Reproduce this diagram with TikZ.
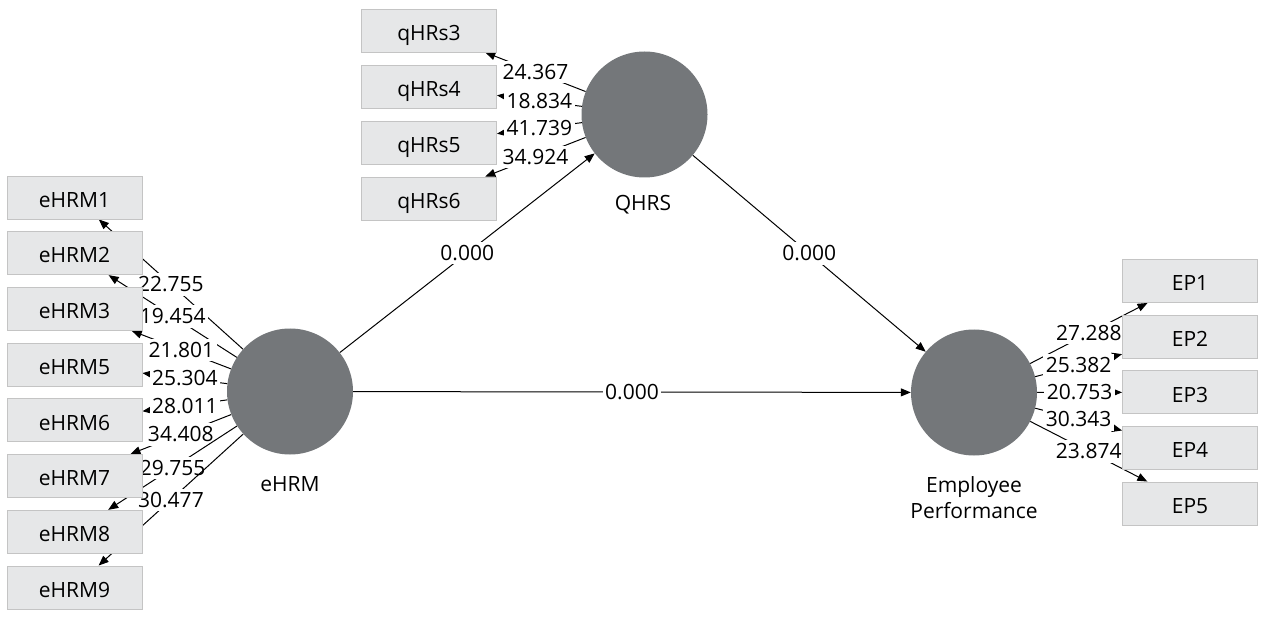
\documentclass[tikz,border=0pt]{standalone}
\usepackage{fontspec}
\setmainfont{Open Sans}
\usetikzlibrary{arrows.meta}
\definecolor{lvgrey}{RGB}{116,119,122}
\definecolor{boxfill}{RGB}{230,231,232}
\definecolor{boxline}{RGB}{196,196,196}
\pgfdeclarelayer{paper}
\pgfdeclarelayer{edges}
\pgfsetlayers{paper,edges,main}
\newcommand{\diagfs}{\fontsize{21}{25}\selectfont}
\begin{document}
\begin{tikzpicture}[x=1pt,y=-1pt,
  lv/.style={circle, fill=lvgrey, minimum size=126pt, inner sep=0pt},
  mv/.style={rectangle, fill=boxfill, draw=boxline, line width=0.9pt,
    minimum width=135pt, minimum height=43pt, inner sep=0pt,
    text height=19.5pt, text depth=0pt, font=\diagfs},
  lvtext/.style={font=\diagfs, inner sep=0pt, anchor=base},
  tip/.style={-{Triangle[length=10pt,width=8pt]}},
  load/.style={line width=1pt, tip},
  path/.style={line width=1pt, tip},
  lab/.style={fill=white, inner xsep=2.5pt, inner ysep=3.5pt, font=\diagfs}]
\begin{pgfonlayer}{paper}
\fill[white] (0,0) rectangle (1268,617);
\end{pgfonlayer}
\useasboundingbox (0,0) rectangle (1268,617);

% latent variables
\node[lv] (ehrm) at (290,391.5) {};
\node[lv] (qhrs) at (644.5,114.5) {};
\node[lv] (ep) at (974,392.5) {};
\node[lvtext] (ehrmT) at (290,491) {eHRM};
\node[lvtext] (qhrsT) at (643,211) {QHRS};
\node[lvtext] (epT1) at (974,492) {Employee};
\node[lvtext] (epT2) at (974,518.5) {Performance};

% indicators of eHRM
\foreach \n/\y in {1/197.5, 2/253.2, 3/308.9, 5/364.6, 6/420.3, 7/476.0, 8/531.8, 9/587.5}
  \node[mv] (ehrm\n) at (74.5,\y) {eHRM\n};
% indicators of QHRS
\foreach \n/\y in {3/30.5, 4/86.5, 5/142.5, 6/198.5}
  \node[mv] (qhrs\n) at (429,\y) {qHRs\n};
% indicators of EP
\foreach \n/\y in {1/281.0, 2/336.6, 3/392.3, 4/447.9, 5/503.5}
  \node[mv] (ep\n) at (1190,\y) {EP\n};

\begin{pgfonlayer}{edges}
  \draw[load] (ehrm) -- node[lab] {22.755} (ehrm1);
  \draw[load] (ehrm) -- node[lab] {19.454} (ehrm2);
  \draw[load] (ehrm) -- node[lab] {21.801} (ehrm3);
  \draw[load] (ehrm) -- node[lab] {25.304} (ehrm5);
  \draw[load] (ehrm) -- node[lab] {28.011} (ehrm6);
  \draw[load] (ehrm) -- node[lab] {34.408} (ehrm7);
  \draw[load] (ehrm) -- node[lab] {29.755} (ehrm8);
  \draw[load] (ehrm) -- node[lab] {30.477} (ehrm9);

  \draw[load] (qhrs) -- node[lab] {24.367} (qhrs3);
  \draw[load] (qhrs) -- node[lab] {18.834} (qhrs4);
  \draw[load] (qhrs) -- node[lab] {41.739} (qhrs5);
  \draw[load] (qhrs) -- node[lab] {34.924} (qhrs6);

  \draw[load] (ep) -- node[lab] {27.288} (ep1);
  \draw[load] (ep) -- node[lab] {25.382} (ep2);
  \draw[load] (ep) -- node[lab] {20.753} (ep3);
  \draw[load] (ep) -- node[lab] {30.343} (ep4);
  \draw[load] (ep) -- node[lab] {23.874} (ep5);

  \draw[path] (ehrm) -- node[lab] {0.000} (qhrs);
  \draw[path] (qhrs) -- node[lab] {0.000} (ep);
  \draw[path] (ehrm) -- node[lab] {0.000} (ep);
\end{pgfonlayer}
\end{tikzpicture}
\end{document}
